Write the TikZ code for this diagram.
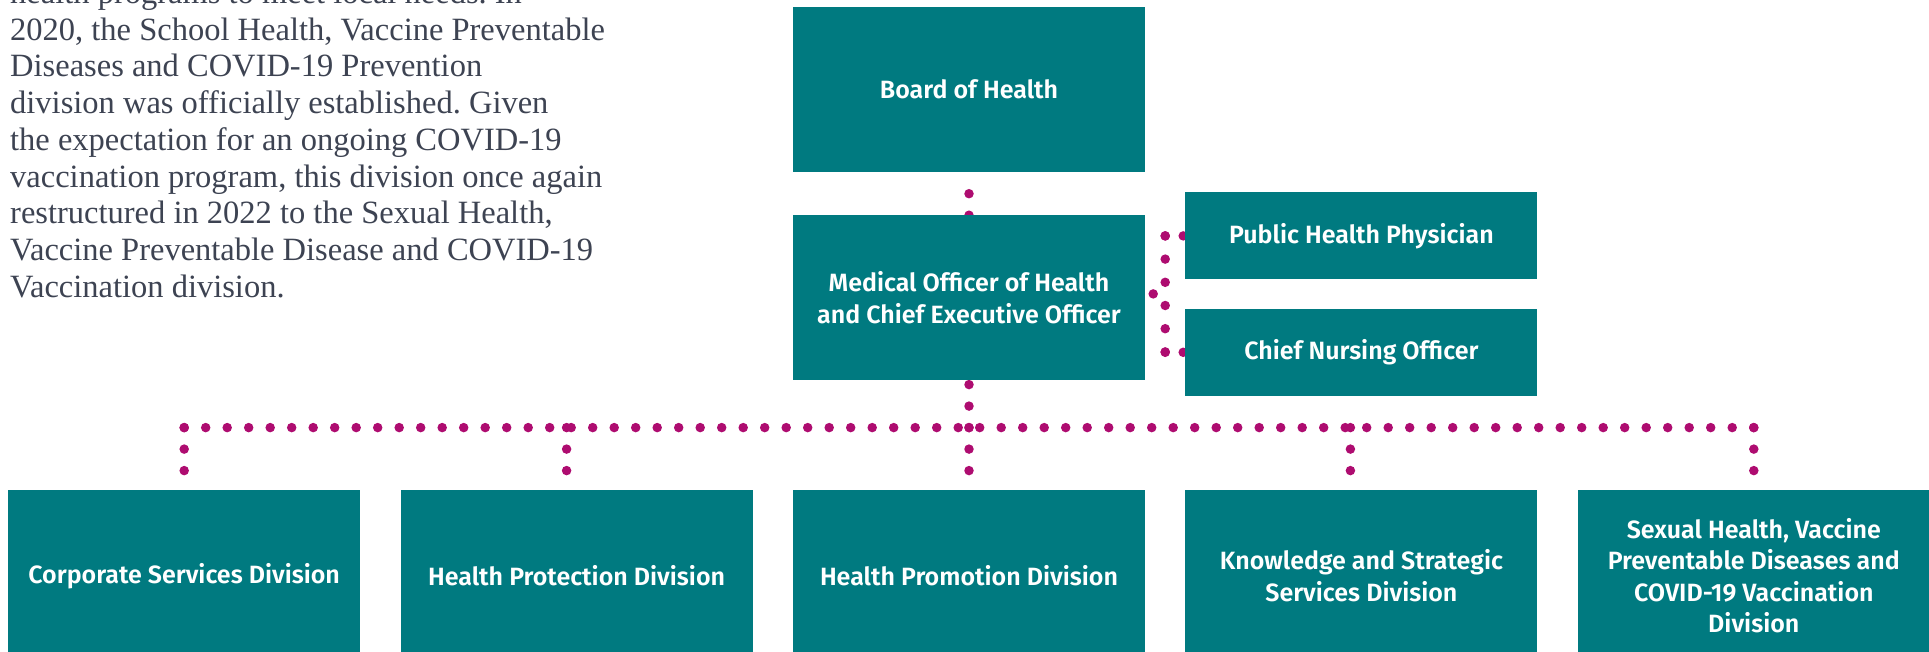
\documentclass[tikz,border=0pt]{standalone}
\usepackage{fontspec}
\setmainfont{Liberation Serif}
\setsansfont{Fira Sans}[BoldFont={Fira Sans SemiBold}]
\usetikzlibrary{positioning,backgrounds}
\definecolor{boxteal}{HTML}{007A80}
\definecolor{linkplum}{HTML}{AE0C70}
\definecolor{textslate}{HTML}{3D4352}
\frenchspacing
\tikzset{
  unit/.style={draw=none, fill=boxteal, text=white, align=center, inner sep=0pt,
    minimum width=352pt, font=\sffamily\bfseries\fontsize{25}{31.5}\selectfont},
  bigunit/.style={unit, minimum height=165pt},
  smallunit/.style={unit, minimum height=87pt},
  division/.style={unit, minimum height=172pt},
  dotlink/.style={draw=linkplum, line width=9.5pt, line cap=round,
    dash pattern=on 0pt off #1},
  dotlink/.default=21.5pt,
}

\begin{document}
\begin{tikzpicture}[x=1pt,y=-1pt,node distance=40pt and 40pt]
  \useasboundingbox (0,0) rectangle (1929,652);

  % base of a multi-line node is its last line
  \node[anchor=base west, inner sep=0pt, align=left, text=textslate,
    font=\fontsize{32.5}{36.7}\selectfont] (intro) at (10,297.2)
    {health programs to meet local needs. In\\
     2020, the School Health, Vaccine Preventable\\
     Diseases and COVID-19 Prevention\\
     division was officially established. Given\\
     the expectation for an ongoing COVID-19\\
     vaccination program, this division once again\\
     restructured in 2022 to the Sexual Health,\\
     Vaccine Preventable Disease and COVID-19\\
     Vaccination division.};

  % top of the chart
  \node[bigunit] (board) at (969,89.5) {Board of Health};
  \node[bigunit,below=43pt of board] (moh) {Medical Officer of Health\\and Chief Executive Officer};
  \node[smallunit,right=40pt of moh,yshift=62pt] (php) {Public Health Physician};
  \node[smallunit,below=29pt of php] (cno) {Chief Nursing Officer};

  % divisions
  \node[division,below=109pt of moh] (promo) {Health Promotion Division};
  \node[division,left=of promo] (protect) {Health Protection Division};
  \node[division,left=of protect] (corp) {Corporate Services Division};
  \node[division,right=of promo] (know) {Knowledge and Strategic\\Services Division};
  \node[division,right=of know] (sexual) {Sexual Health, Vaccine\\Preventable Diseases and\\COVID-19 Vaccination\\Division};

  \coordinate[below=47pt of moh.south] (busmid);
  \coordinate (buscorp) at (busmid -| corp.north);
  \coordinate[xshift=-10pt] (busprotect) at (busmid -| protect.north);
  \coordinate[xshift=-11pt] (busknow) at (busmid -| know.north);
  \coordinate (bussexual) at (busmid -| sexual.north);

  \coordinate[left=20pt of php.west] (sidetop);
  \coordinate[left=20pt of cno.west] (sidebot);
  \coordinate[yshift=4pt] (sidemid) at (sidetop |- moh.east);

  \begin{pgfonlayer}{background}
    \draw[dotlink] (moh.north) -- (board.south);
    \draw[dotlink] (busmid) -- (moh.south);
    \draw[dotlink] (buscorp) -- (bussexual);
    \foreach \drop/\unit in {buscorp/corp,busprotect/protect,busmid/promo,busknow/know,bussexual/sexual}
      \draw[dotlink] (\drop) -- (\drop |- \unit.north);
    \draw[dotlink=23.2pt] (sidetop) -- (sidebot);
    \draw[dotlink=18pt] (sidetop) -- (php.west);
    \draw[dotlink=18pt] (sidebot) -- (cno.west);
    \draw[dotlink,dash phase=13.5pt] ([yshift=4pt]moh.east) -- (sidemid);
  \end{pgfonlayer}
\end{tikzpicture}
\end{document}
